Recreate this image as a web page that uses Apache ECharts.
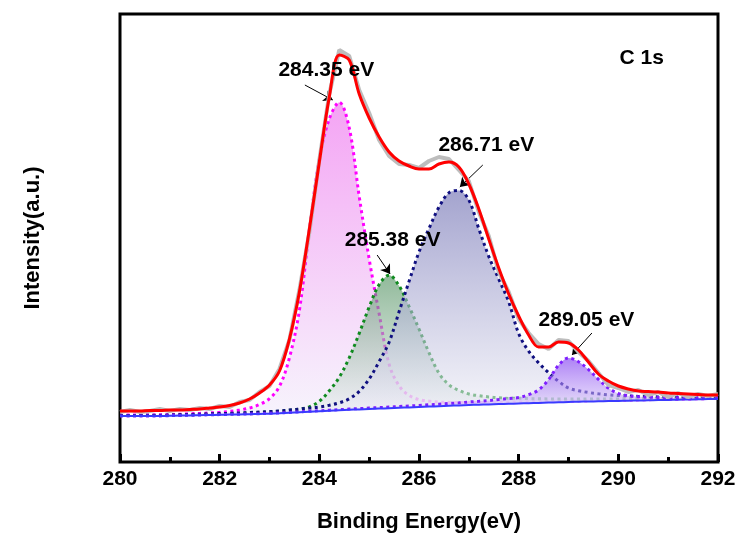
<!DOCTYPE html>
<html>
<head>
    <meta charset="utf-8">
    <title>C 1s XPS</title>
    <script src="https://cdn.jsdelivr.net/npm/echarts@6/dist/echarts.min.js"></script>
</head>
<body style="margin:0;background:#fff">
<div id="main" style="width: 743px;height:533px;"></div>
<script type="text/javascript">
    // binding energy grid (eV)
    var energy = [280.0,280.2,280.4,280.6,280.8,281.0,281.2,281.4,281.6,281.8,
        282.0,282.2,282.4,282.6,282.8,283.0,283.2,283.4,283.6,283.8,
        284.0,284.2,284.4,284.6,284.8,285.0,285.2,285.4,285.6,285.8,
        286.0,286.2,286.4,286.6,286.8,287.0,287.2,287.4,287.6,287.8,
        288.0,288.2,288.4,288.6,288.8,289.0,289.2,289.4,289.6,289.8,
        290.0,290.2,290.4,290.6,290.8,291.0,291.2,291.4,291.6,291.8,292.0];

    // background (Shirley-like)
    var background = [46,46,46,46,46,46.2,46.4,46.6,46.8,47,
        47.2,47.4,47.6,47.8,48,48.3,48.7,49.2,49.7,50.2,
        50.7,51.2,51.7,52.2,52.6,53,53.4,53.8,54.2,54.6,
        55,55.4,55.8,56.2,56.6,57,57.3,57.6,57.9,58.2,
        58.5,58.8,59.1,59.4,59.7,60,60.3,60.5,60.7,60.9,
        61.1,61.3,61.5,61.7,61.9,62.1,62.3,62.5,62.7,62.9,63];

    // fitted components, height above background
    var peak284 = [0.8,0.9,0.9,1.0,1.1,1.2,1.4,1.6,1.8,2.1,
        2.5,3.2,4.4,6.2,9.5,15,27,55,102,182,
        252,292,308,282,213,150,95,44,22,12,
        7.5,5.5,4.2,3.4,2.8,2.4,2.1,1.9,1.7,1.5,
        1.4,1.3,1.2,1.1,1.0,0.95,0.9,0.85,0.8,0.75,
        0.7,0.68,0.65,0.62,0.6,0.58,0.56,0.54,0.52,0.5,0.5];
    var peak285 = [0.4,0.4,0.45,0.5,0.5,0.55,0.6,0.65,0.7,0.8,
        0.9,1.0,1.1,1.3,1.5,1.8,2.2,2.5,3.2,5,
        10,20,33,52,76,102,124,133,122,101,
        78,54,33,21,15,11,9,7.5,6.3,5.4,
        5.2,4.6,4.1,3.7,3.3,3.0,2.7,2.5,2.3,2.1,
        2.0,1.9,1.8,1.7,1.6,1.5,1.45,1.4,1.35,1.3,1.25];
    var peak286 = [0.5,0.55,0.6,0.65,0.7,0.75,0.8,0.9,1.0,1.1,
        1.2,1.3,1.5,1.7,1.9,2.1,2.4,2.8,3.2,3.7,
        4.3,5.5,7.5,11,18,30,47,66,96,126,
        155,178,199,213,215,205,176,148,125,102,
        70,52,40,30,21,14,11,9,7.5,6.3,
        5.4,4.7,4.1,3.6,3.2,2.9,2.6,2.4,2.2,2.0,1.9];
    var peak289 = [0.1,0.1,0.1,0.12,0.12,0.14,0.15,0.16,0.18,0.2,
        0.22,0.24,0.26,0.28,0.3,0.33,0.36,0.4,0.45,0.5,
        0.55,0.6,0.65,0.72,0.8,0.9,1.0,1.1,1.25,1.4,
        1.6,1.8,2.0,2.3,2.6,3.0,3.4,3.9,4.5,5.3,
        6,8.5,13,23,37,44,40,32,22,13,
        7.5,5,3.8,3.1,2.6,2.2,1.9,1.7,1.5,1.35,1.2];

    // envelope and raw counts
    var envelope = [51,51,51,51.5,51.5,52,52,52.5,53,54,
        55,56.5,59,63,69,77,91,123,170,233,
        300,365,407,402,368,344,325,310,301,296,
        293,293,298,300,295,278,253,223,194,168,
        146,127,115,115,120,119,112,100,88,81,
        76,73,71,70.5,70,69,68.5,68,67.5,67,67];
    var raw = [50,52,50,51,53,51,53,52,54,53,
        56,55,60,62,70,76,93,122,172,230,
        302,368,412,406,372,349,322,306,298,297,
        294,301,305,303,292,281,250,226,190,170,
        143,129,118,113,122,121,110,101,89,77,
        74,70,72,67,70,65,69,65,68,66,68];

    var noteText = ['284.35 eV', '285.38 eV', '286.71 eV', '289.05 eV', 'C 1s'];
    var notePos = [[284.15, 391], [285.48, 221], [287.36, 316], [289.37, 141], [290.48, 403]];
    var arrowFrom = [[283.71, 377], [285.16, 207], [287.28, 297], [289.47, 129]];
    var arrowTo = [[284.27, 362], [285.42, 188], [286.82, 275], [289.07, 107]];

    var peaks = [
        {data: peak284, line: '#ff00ff', top: 'rgba(238,110,238,0.9)', bottom: 'rgba(240,234,250,0.8)'},
        {data: peak285, line: '#0f8a1f', top: 'rgba(80,145,95,0.9)', bottom: 'rgba(238,240,244,0.8)'},
        {data: peak286, line: '#101080', top: 'rgba(110,110,178,0.9)', bottom: 'rgba(240,240,248,0.8)'},
        {data: peak289, line: '#7f1fff', top: 'rgba(128,60,240,0.92)', bottom: 'rgba(238,232,252,0.8)'}
    ];

    function pairs(arr) {
        return energy.map(function (e, i) { return [e, arr[i]]; });
    }

    var font = "'Liberation Sans', Arial, sans-serif";
    var series = [];
    // components are stacked on the background along a hidden category axis (same grid of energies);
    // each later component sits on a higher z so its fill veils the lines drawn before it
    peaks.forEach(function (p, k) {
        series.push({
            type: 'line', xAxisIndex: 1, stack: 'p' + k, data: background, symbol: 'none',
            silent: true, z: 2 + k, lineStyle: {opacity: 0, width: 0}
        });
        series.push({
            type: 'line', xAxisIndex: 1, stack: 'p' + k, data: p.data, symbol: 'none', smooth: 0.35,
            z: 2 + k,
            lineStyle: {color: p.line, width: 3, type: [3, 3.5]},
            areaStyle: {
                color: {type: 'linear', x: 0, y: 0, x2: 0, y2: 1,
                    colorStops: [{offset: 0, color: p.top}, {offset: 1, color: p.bottom}]}
            }
        });
    });
    series.push({
        type: 'line', data: pairs(background), symbol: 'none', smooth: 0.3, z: 6,
        lineStyle: {color: '#3a3aff', width: 2}
    });
    series.push({
        type: 'line', data: pairs(raw), symbol: 'none', z: 7,
        lineStyle: {color: '#bdbdbd', width: 4}
    });
    series.push({
        type: 'line', data: pairs(envelope), symbol: 'none', smooth: 0.35, z: 8,
        lineStyle: {color: '#ff0000', width: 3}
    });
    series.push({
        type: 'scatter', symbolSize: 1, itemStyle: {color: 'rgba(0,0,0,0)'},
        data: notePos.map(function (p, i) { return {value: p, name: noteText[i]}; }),
        z: 9,
        label: {
            show: true, position: [0, 0], align: 'center', verticalAlign: 'middle', formatter: '{b}',
            color: '#000', opacity: 1, textBorderWidth: 0,
            fontWeight: 'bold', fontSize: 21, fontFamily: font
        },
        markLine: {
            silent: true, symbol: ['none', 'arrow'], symbolSize: 9,
            label: {show: false},
            lineStyle: {color: '#000', width: 1, type: 'solid', opacity: 1},
            data: arrowFrom.map(function (a, i) {
                return [{coord: a}, {coord: arrowTo[i]}];
            })
        }
    });

    var myChart = echarts.init(document.getElementById('main'));
    myChart.setOption({
        animation: false,
        backgroundColor: '#ffffff',
        grid: {
            left: 120, right: 25, top: 14, bottom: 71,
            outerBoundsMode: 'none',
            show: true, borderColor: '#000', borderWidth: 3
        },
        xAxis: [{
            type: 'value', min: 280, max: 292, interval: 2,
            name: 'Binding Energy(eV)', nameLocation: 'middle', nameGap: 49,
            nameTextStyle: {color: '#000', fontWeight: 'bold', fontSize: 22, fontFamily: font},
            axisLine: {show: false},
            axisTick: {inside: true, length: 8, lineStyle: {color: '#000', width: 3}},
            minorTick: {show: true, splitNumber: 2, length: 5, lineStyle: {color: '#000', width: 3}},
            splitLine: {show: false},
            axisLabel: {color: '#000', fontWeight: 'bold', fontSize: 21, fontFamily: font, margin: 7}
        }, {
            type: 'category', data: energy.map(String), boundaryGap: false, show: false
        }],
        yAxis: {
            type: 'value', min: 0, max: 448,
            name: 'Intensity(a.u.)', nameLocation: 'middle', nameGap: 76,
            nameTextStyle: {color: '#000', fontWeight: 'bold', fontSize: 22, fontFamily: font},
            axisLine: {show: false},
            axisTick: {show: false},
            axisLabel: {show: false},
            splitLine: {show: false}
        },
        series: series
    });
</script>
</body>
</html>
